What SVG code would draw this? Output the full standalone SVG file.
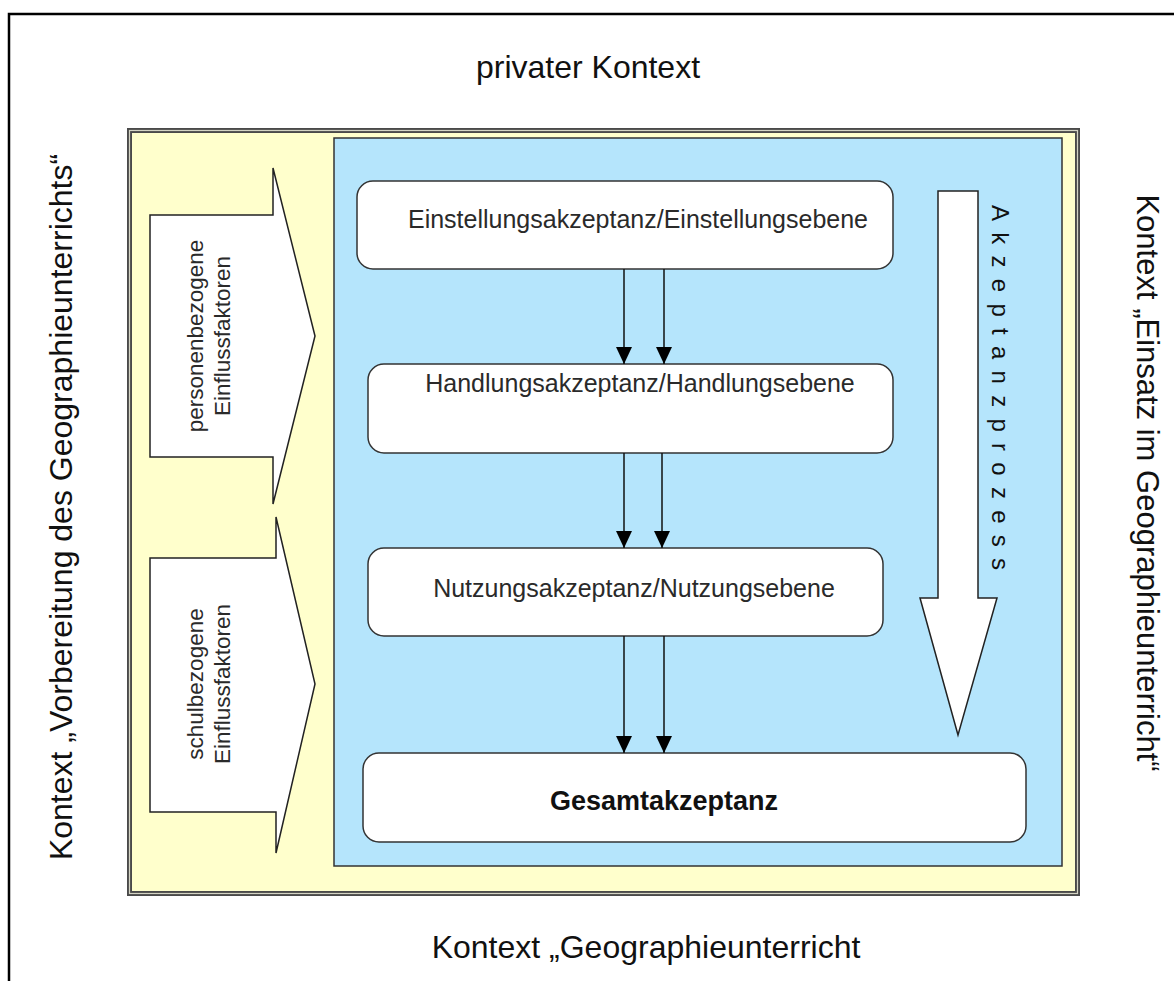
<svg xmlns="http://www.w3.org/2000/svg" width="1174" height="981" viewBox="0 0 1174 981">
<style>
text{font-family:"Liberation Sans",Arial,sans-serif;fill:#111}
.ctx{font-size:32px}
.box{fill:#fff;stroke:#333;stroke-width:1.5}
.lvl{font-size:25px;fill:#2a2a2a;text-anchor:middle}
.inf{font-size:22.5px;fill:#2a2a2a;text-anchor:middle}
.blk{fill:#fff;stroke:#222;stroke-width:1.5;stroke-linejoin:miter}
.con{stroke:#111;stroke-width:1.5;fill:none}
</style>
<defs>
<marker id="ah" markerWidth="17" markerHeight="16" refX="17" refY="8" orient="auto" markerUnits="userSpaceOnUse" viewBox="0 0 17 16">
<path d="M0,0 L17,8 L0,16 Z" fill="#000"/>
</marker>
</defs>
<rect width="1174" height="981" fill="#fff"/>
<g id="frame">
<path d="M9,981 L9,14 L1174,14" fill="none" stroke="#000" stroke-width="2.5"/>
<text class="ctx" x="588" y="78" text-anchor="middle">privater Kontext</text>
<text class="ctx" x="646" y="958" text-anchor="middle">Kontext „Geographieunterricht</text>
<text class="ctx" transform="translate(72,507) rotate(-90)" text-anchor="middle">Kontext „Vorbereitung des Geographieunterrichts“</text>
<text class="ctx" font-size="31" style="font-size:31px" transform="translate(1137,483) rotate(90)" text-anchor="middle">Kontext „Einsatz im Geographieunterricht“</text>
</g>
<g id="yellow-context">
<rect x="129.5" y="130.5" width="948" height="763" fill="#ffffcc" stroke="#4a4a4a" stroke-width="5"/>
<rect x="129.5" y="130.5" width="948" height="763" fill="none" stroke="#d4d4c4" stroke-width="1.2"/>
</g>
<g id="blue-process">
<rect x="334" y="138" width="728" height="728" fill="#b5e5fc" stroke="#333" stroke-width="1.5"/>
</g>
<g id="influence-personal">
<polygon class="blk" points="150,215 273,215 273,168 315,336 273,504 273,457 150,457"/>
<text class="inf" transform="translate(209,336) rotate(-90)"><tspan x="0" y="-6">personenbezogene</tspan><tspan x="0" y="21">Einflussfaktoren</tspan></text>
</g>
<g id="influence-school">
<polygon class="blk" points="150,558 276,558 276,517 315,684 276,853 276,812 150,812"/>
<text class="inf" transform="translate(209,684) rotate(-90)"><tspan x="0" y="-6">schulbezogene</tspan><tspan x="0" y="21">Einflussfaktoren</tspan></text>
</g>
<g id="process-arrow">
<polygon class="blk" points="938,191 978,191 978,598 997,598 958,735 920,598 938,598"/>
<text font-size="24" transform="translate(992,205) rotate(90)" textLength="365" lengthAdjust="spacing">Akzeptanzprozess</text>
</g>
<g id="einstellung">
<rect class="box" x="357" y="181" width="536" height="88" rx="16"/>
<text class="lvl" x="638" y="228">Einstellungsakzeptanz/Einstellungsebene</text>
</g>
<g id="handlung">
<rect class="box" x="368" y="364" width="525" height="89" rx="16"/>
<text class="lvl" x="640" y="392">Handlungsakzeptanz/Handlungsebene</text>
</g>
<g id="nutzung">
<rect class="box" x="368" y="548" width="515" height="88" rx="16"/>
<text class="lvl" x="634" y="597">Nutzungsakzeptanz/Nutzungsebene</text>
</g>
<g id="gesamt">
<rect class="box" x="363" y="753" width="663" height="89" rx="16"/>
<text x="664" y="810" font-size="27" font-weight="bold" text-anchor="middle">Gesamtakzeptanz</text>
</g>
<g id="connectors">
<line class="con" x1="624" y1="269" x2="624" y2="364" marker-end="url(#ah)"/>
<line class="con" x1="664" y1="269" x2="664" y2="364" marker-end="url(#ah)"/>
<line class="con" x1="624" y1="453" x2="624" y2="548" marker-end="url(#ah)"/>
<line class="con" x1="662" y1="453" x2="662" y2="548" marker-end="url(#ah)"/>
<line class="con" x1="624" y1="636" x2="624" y2="753" marker-end="url(#ah)"/>
<line class="con" x1="664" y1="636" x2="664" y2="753" marker-end="url(#ah)"/>
</g>
</svg>
